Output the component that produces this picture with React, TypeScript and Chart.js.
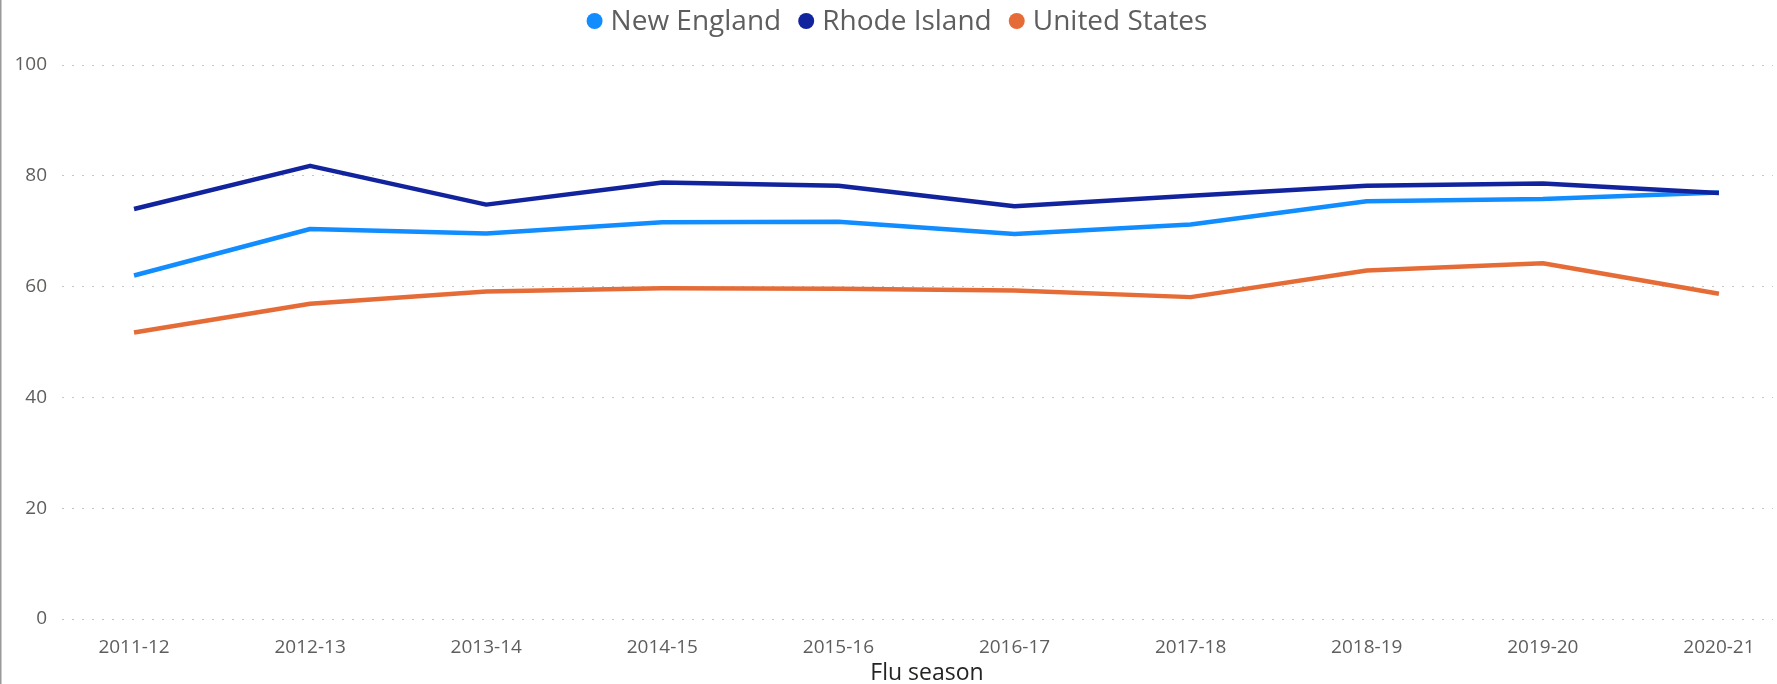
import React, { useEffect, useRef } from "react";
import { Chart, registerables } from "chart.js";

Chart.register(...registerables);

// ---- data ----
const seasons = [
  "2011-12",
  "2012-13",
  "2013-14",
  "2014-15",
  "2015-16",
  "2016-17",
  "2017-18",
  "2018-19",
  "2019-20",
  "2020-21",
];
const newEngland = [62.0, 70.4, 69.6, 71.6, 71.7, 69.5, 71.2, 75.4, 75.8, 77.0];
const rhodeIsland = [74.0, 81.8, 74.8, 78.8, 78.2, 74.5, 76.4, 78.2, 78.6, 76.9];
const unitedStates = [51.7, 56.9, 59.1, 59.7, 59.6, 59.3, 58.1, 62.9, 64.2, 58.7];
const seriesNames = ["New England", "Rhode Island", "United States"];
const yTickValues = [0, 20, 40, 60, 80, 100];
const xAxisTitle = "Flu season";

const FONT = '"Open Sans", "Noto Sans", sans-serif';
const TICK_COLOR = "#605E5C";

const legendAndFrame = {
  id: "legendAndFrame",
  afterDraw(chart: any) {
    const ctx = chart.ctx as CanvasRenderingContext2D;
    ctx.save();
    // left frame line
    ctx.fillStyle = "#9a9a9a";
    ctx.fillRect(0, 0, 1.5, chart.height);

    // axis title (Power BI places it slightly right of the plot centre)
    ctx.font = `23px ${FONT}`;
    ctx.fillStyle = "#252423";
    ctx.textAlign = "center";
    ctx.textBaseline = "middle";
    ctx.fillText(xAxisTitle, 927, 673);

    // legend
    ctx.font = `28px ${FONT}`;
    ctx.textBaseline = "middle";
    ctx.textAlign = "left";
    const items = chart.data.datasets.map((ds: any) => ({
      label: ds.label as string,
      color: ds.borderColor as string,
      w: ctx.measureText(ds.label).width,
    }));
    const dotLead = 24;
    const gap = 17;
    const total =
      items.reduce((s: number, it: any) => s + dotLead + it.w, 0) +
      gap * (items.length - 1);
    let x = 897 - total / 2;
    const cy = 21;
    for (const it of items) {
      ctx.beginPath();
      ctx.fillStyle = it.color;
      ctx.arc(x + 8, cy, 8, 0, Math.PI * 2);
      ctx.fill();
      ctx.fillStyle = TICK_COLOR;
      ctx.fillText(it.label, x + dotLead, cy + 1);
      x += dotLead + it.w + gap;
    }
    ctx.restore();
  },
};

export default function App() {
  const canvasRef = useRef<HTMLCanvasElement | null>(null);

  useEffect(() => {
    if (!canvasRef.current) return;
    const toPoints = (arr: number[]) => arr.map((v, i) => ({ x: i, y: v }));
    const chart = new Chart(canvasRef.current, {
      type: "line",
      data: {
        datasets: [
          {
            label: seriesNames[0],
            data: toPoints(newEngland),
            borderColor: "#118DFF",
            backgroundColor: "#118DFF",
            order: 1,
          },
          {
            label: seriesNames[1],
            data: toPoints(rhodeIsland),
            borderColor: "#12239E",
            backgroundColor: "#12239E",
            order: 0,
          },
          {
            label: seriesNames[2],
            data: toPoints(unitedStates),
            borderColor: "#E66C37",
            backgroundColor: "#E66C37",
            order: 2,
          },
        ],
      },
      options: {
        animation: false,
        responsive: false,
        maintainAspectRatio: false,
        elements: {
          line: {
            borderWidth: 4.5,
            tension: 0,
            borderJoinStyle: "round",
            borderCapStyle: "butt",
            fill: false,
          },
          point: { radius: 0, hoverRadius: 0 },
        },
        layout: { padding: { top: 65, right: 4, bottom: 0, left: 0 } },
        plugins: {
          legend: { display: false },
          tooltip: { enabled: false },
        },
        scales: {
          x: {
            type: "linear",
            min: -0.409,
            max: 9.307,
            afterBuildTicks: (scale: any) => {
              scale.ticks = seasons.map((_, i) => ({ value: i }));
            },
            afterFit: (scale: any) => {
              scale.height = 65;
            },
            ticks: {
              autoSkip: false,
              maxRotation: 0,
              padding: 9,
              color: TICK_COLOR,
              font: { family: FONT, size: 19 },
              callback: (v: any) => seasons[Math.round(Number(v))] ?? "",
            },
            grid: { display: false },
            border: { display: false },
            title: { display: false },
          },
          y: {
            type: "linear",
            min: 0,
            max: 100,
            afterBuildTicks: (scale: any) => {
              scale.ticks = yTickValues.map((v) => ({ value: v }));
            },
            afterFit: (scale: any) => {
              scale.width = 62;
            },
            ticks: {
              padding: 15,
              color: TICK_COLOR,
              font: { family: FONT, size: 19 },
            },
            grid: {
              color: "#C8C6C4",
              lineWidth: 1,
              drawTicks: false,
            },
            border: { display: false, dash: [2, 8] },
          },
        },
      },
      plugins: [legendAndFrame],
    });
    return () => chart.destroy();
  }, []);

  return (
    <div
      style={{
        position: "absolute",
        left: 0,
        top: 0,
        width: 1777,
        height: 684,
        background: "#ffffff",
      }}
    >
      <canvas
        ref={canvasRef}
        width={1777}
        height={684}
        style={{ width: 1777, height: 684, display: "block" }}
      />
    </div>
  );
}
